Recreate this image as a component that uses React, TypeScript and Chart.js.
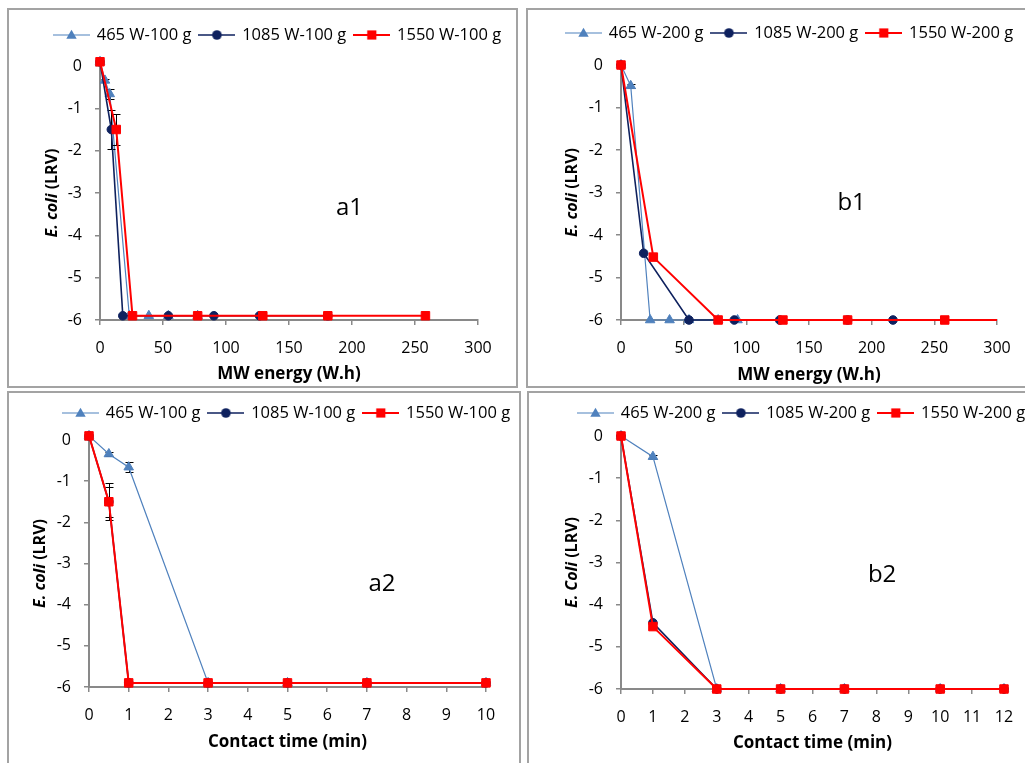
import React, { useEffect, useRef } from 'react';
import { Chart, registerables } from 'chart.js';

Chart.register(...registerables);

const FONT = "'Open Sans', sans-serif";

// ---------- data ----------
const labels100 = ['465 W-100 g', '1085 W-100 g', '1550 W-100 g'];
const labels200 = ['465 W-200 g', '1085 W-200 g', '1550 W-200 g'];

// a1: MW energy (W.h), 100 g
const a1Energy465 = [0, 3.9, 7.75, 23.25, 38.75, 54.25, 77.5];
const a1Energy1085 = [0, 9.0, 18.1, 54.25, 90.4, 126.6, 180.8];
const a1Energy1550 = [0, 12.9, 25.8, 77.5, 129.2, 180.8, 258.3];
// a2: contact time (min), 100 g
const a2Time = [0, 0.5, 1, 3, 5, 7, 10];
// E. coli LRV, 100 g
const lrv100_465 = [0.1, -0.34, -0.66, -5.9, -5.9, -5.9, -5.9];
const lrv100_1085 = [0.1, -1.5, -5.9, -5.9, -5.9, -5.9, -5.9];
const lrv100_1550 = [0.1, -1.5, -5.9, -5.9, -5.9, -5.9, -5.9];
const err100_465 = [0, 0.04, 0.12, 0, 0, 0, 0];
const err100_1085 = [0, 0.45, 0, 0, 0, 0, 0];
const err100_1550 = [0, 0.37, 0, 0, 0, 0, 0];

// b1: MW energy (W.h), 200 g
const b1Energy465 = [0, 7.75, 23.25, 38.75, 54.25, 77.5, 93];
const b1Energy1085 = [0, 18.1, 54.25, 90.4, 126.6, 180.8, 217];
const b1Energy1550 = [0, 25.8, 77.5, 129.2, 180.8, 258.3, 310];
// b2: contact time (min), 200 g
const b2Time = [0, 1, 3, 5, 7, 10, 12];
// E. coli LRV, 200 g
const lrv200_465 = [0, -0.49, -6, -6, -6, -6, -6];
const lrv200_1085 = [0, -4.43, -6, -6, -6, -6, -6];
const lrv200_1550 = [0, -4.52, -6, -6, -6, -6, -6];
const err200_465 = [0, 0.05, 0, 0, 0, 0, 0];

// axes
const energyAxis = { min: 0, max: 300, step: 50 };
const timeAxisA = { min: 0, max: 10, step: 1 };
const timeAxisB = { min: 0, max: 12, step: 1 };
const lrvAxis = { min: -6, max: 0, step: 1 };

// ---------- styles ----------
const COLORS = ['#4f81bd', '#0e215e', '#ff0000'];
const LINE_W = [1.2, 1.6, 2];
const SHAPES = ['triangle', 'circle', 'rect'];
const RADII = [5.5, 4.3, 6];
const AXIS_COLOR = '#898989';
const CW = 600;
const CH = 376;
const LEG_FS = 16.5;
const LEG_PAD = 8.5;
const LEG_BOXW = 34;

type Series = { label: string; x: number[]; y: number[]; err?: number[]; clipRight?: boolean };
type Spec = {
  id: string;
  panel: { x: number; y: number; w: number; h: number };
  plot: { l: number; r: number; t: number; b: number };
  legend: { x: number; cy: number };
  xTitleY: number;
  yTitleX: number;
  xAxis: { min: number; max: number; step: number };
  xTitle: string;
  yTitle: [string, string];
  label: { text: string; x: number; y: number };
  series: Series[];
};

const panels: Spec[] = [
  {
    id: 'a1',
    panel: { x: 7, y: 8, w: 511, h: 380 },
    plot: { l: 100, r: 478, t: 66, b: 320 },
    legend: { x: 53, cy: 35 },
    xTitleY: 374,
    yTitleX: 52,
    xAxis: energyAxis,
    xTitle: 'MW energy (W.h)',
    yTitle: ['E. coli', ' (LRV)'],
    label: { text: 'a1', x: 198, y: -3.35 },
    series: [
      { label: labels100[0], x: a1Energy465, y: lrv100_465, err: err100_465 },
      { label: labels100[1], x: a1Energy1085, y: lrv100_1085, err: err100_1085 },
      { label: labels100[2], x: a1Energy1550, y: lrv100_1550, err: err100_1550 },
    ],
  },
  {
    id: 'b1',
    panel: { x: 526, y: 8, w: 520, h: 380 },
    plot: { l: 621, r: 997, t: 65, b: 320 },
    legend: { x: 565, cy: 33 },
    xTitleY: 375,
    yTitleX: 572,
    xAxis: energyAxis,
    xTitle: 'MW energy (W.h)',
    yTitle: ['E. coli', ' (LRV)'],
    label: { text: 'b1', x: 184, y: -3.25 },
    series: [
      { label: labels200[0], x: b1Energy465, y: lrv200_465, err: err200_465 },
      { label: labels200[1], x: b1Energy1085, y: lrv200_1085 },
      { label: labels200[2], x: b1Energy1550, y: lrv200_1550, clipRight: true },
    ],
  },
  {
    id: 'a2',
    panel: { x: 7, y: 391, w: 514, h: 390 },
    plot: { l: 89, r: 486, t: 440, b: 687 },
    legend: { x: 62, cy: 413 },
    xTitleY: 742,
    yTitleX: 40,
    xAxis: timeAxisA,
    xTitle: 'Contact time (min)',
    yTitle: ['E. coli', ' (LRV)'],
    label: { text: 'a2', x: 7.38, y: -3.5 },
    series: [
      { label: labels100[0], x: a2Time, y: lrv100_465, err: err100_465 },
      { label: labels100[1], x: a2Time, y: lrv100_1085, err: err100_1085 },
      { label: labels100[2], x: a2Time, y: lrv100_1550, err: err100_1550 },
    ],
  },
  {
    id: 'b2',
    panel: { x: 527, y: 391, w: 520, h: 390 },
    plot: { l: 621, r: 1004, t: 436, b: 689 },
    legend: { x: 577, cy: 413 },
    xTitleY: 743,
    yTitleX: 572,
    xAxis: timeAxisB,
    xTitle: 'Contact time (min)',
    yTitle: ['E. Coli', ' (LRV)'],
    label: { text: 'b2', x: 8.18, y: -3.3 },
    series: [
      { label: labels200[0], x: b2Time, y: lrv200_465, err: err200_465 },
      { label: labels200[1], x: b2Time, y: lrv200_1085 },
      { label: labels200[2], x: b2Time, y: lrv200_1550 },
    ],
  },
];

function drawShape(ctx: CanvasRenderingContext2D, shape: string, x: number, y: number, r: number) {
  ctx.beginPath();
  if (shape === 'circle') {
    ctx.arc(x, y, r, 0, Math.PI * 2);
  } else if (shape === 'rect') {
    const s = r / Math.SQRT2;
    ctx.rect(x - s, y - s, 2 * s, 2 * s);
  } else {
    for (let k = 0; k < 3; k++) {
      const a = (k * 2 * Math.PI) / 3;
      const px = x + Math.sin(a) * r;
      const py = y - Math.cos(a) * r;
      if (k === 0) ctx.moveTo(px, py);
      else ctx.lineTo(px, py);
    }
    ctx.closePath();
  }
  ctx.fill();
}

function legendImage(i: number) {
  const c = document.createElement('canvas');
  c.width = 37;
  c.height = 16;
  const ctx = c.getContext('2d')!;
  ctx.strokeStyle = COLORS[i];
  ctx.lineWidth = LINE_W[i];
  ctx.beginPath();
  ctx.moveTo(0, 8);
  ctx.lineTo(37, 8);
  ctx.stroke();
  ctx.fillStyle = COLORS[i];
  drawShape(ctx, SHAPES[i], 18.5, i === 0 ? 8.8 : 8, RADII[i] + 0.5);
  return c;
}

const errorBarPlugin = {
  id: 'errorBars',
  beforeDatasetDraw(chart: any, args: any) {
    const ds = chart.data.datasets[args.index];
    const errs: number[] | undefined = ds.errorBars;
    if (!errs) return;
    const meta = args.meta;
    const ys = chart.scales[meta.yAxisID];
    const ctx: CanvasRenderingContext2D = chart.ctx;
    ctx.save();
    ctx.strokeStyle = '#000';
    ctx.lineWidth = 1;
    meta.data.forEach((pt: any, j: number) => {
      const e = errs[j];
      if (!e) return;
      const v = ds.data[j].y;
      const x = Math.round(pt.x) + 0.5;
      const y1 = Math.round(ys.getPixelForValue(v + e)) + 0.5;
      const y2 = Math.round(ys.getPixelForValue(v - e)) + 0.5;
      ctx.beginPath();
      ctx.moveTo(x, y1);
      ctx.lineTo(x, y2);
      ctx.moveTo(x - 4, y1);
      ctx.lineTo(x + 4, y1);
      ctx.moveTo(x - 4, y2);
      ctx.lineTo(x + 4, y2);
      ctx.stroke();
    });
    ctx.restore();
  },
};

function buildChart(canvas: HTMLCanvasElement, spec: Spec) {
  const ox = spec.panel.x + 2;
  const oy = spec.panel.y + 2;
  const itemX = spec.legend.x + 1.5 - ox;
  const L = itemX - LEG_PAD;
  const T = spec.legend.cy - oy - LEG_PAD - LEG_FS / 2;
  const legendH = LEG_FS + LEG_PAD + 10;
  const cl = spec.plot.l - ox;
  const cr = spec.plot.r - ox;
  const ct = spec.plot.t - oy;
  const cb = spec.plot.b - oy;
  const yW = cl - L;
  const rW = CW - cr;
  const G = ct - T - legendH;
  const xH = CH - cb;
  const titleLH = 17 * 1.2;
  const pb = CH - titleLH / 2 - (spec.xTitleY - oy);
  const imgs = [0, 1, 2].map(legendImage);

  const textPlugin = {
    id: 'panelText',
    afterDraw(chart: any) {
      const ctx: CanvasRenderingContext2D = chart.ctx;
      const ca = chart.chartArea;
      ctx.save();
      ctx.translate(spec.yTitleX - ox, (ca.top + ca.bottom) / 2);
      ctx.rotate(-Math.PI / 2);
      ctx.textBaseline = 'middle';
      ctx.textAlign = 'left';
      ctx.fillStyle = '#000';
      const f1 = `italic bold 16px ${FONT}`;
      const f2 = `bold 16px ${FONT}`;
      ctx.font = f1;
      const w1 = ctx.measureText(spec.yTitle[0]).width;
      ctx.font = f2;
      const w2 = ctx.measureText(spec.yTitle[1]).width;
      const x0 = -(w1 + w2) / 2;
      ctx.font = f1;
      ctx.fillText(spec.yTitle[0], x0, 0);
      ctx.font = f2;
      ctx.fillText(spec.yTitle[1], x0 + w1, 0);
      ctx.restore();

      ctx.save();
      ctx.font = `24px ${FONT}`;
      ctx.fillStyle = '#000';
      ctx.textAlign = 'center';
      ctx.textBaseline = 'middle';
      ctx.fillText(
        spec.label.text,
        chart.scales.x.getPixelForValue(spec.label.x),
        chart.scales.y.getPixelForValue(spec.label.y)
      );
      ctx.restore();
    },
  };

  const datasets = spec.series.map((s, i) => ({
    label: s.label,
    data: s.x.map((x, j) => ({ x, y: s.y[j] })),
    borderColor: COLORS[i],
    backgroundColor: COLORS[i],
    borderWidth: LINE_W[i],
    pointStyle: SHAPES[i],
    pointRadius: RADII[i],
    pointHoverRadius: RADII[i],
    pointBorderWidth: 1,
    pointBorderColor: COLORS[i],
    pointBackgroundColor: COLORS[i],
    tension: 0,
    fill: false,
    order: 3 - i,
    clip: { left: false, top: false, right: s.clipRight ? 0 : false, bottom: false },
    errorBars: s.err,
  }));

  const tickFont = { family: FONT, size: 16 };

  return new Chart(canvas, {
    type: 'line',
    data: { datasets } as any,
    options: {
      responsive: false,
      animation: false,
      events: [],
      layout: { padding: { left: L, top: T, right: 0, bottom: 0 } },
      plugins: {
        tooltip: { enabled: false },
        legend: {
          display: true,
          position: 'top',
          align: 'start',
          labels: {
            usePointStyle: true,
            pointStyleWidth: LEG_BOXW,
            padding: LEG_PAD,
            color: '#000',
            font: { family: FONT, size: LEG_FS },
            generateLabels: (chart: any) =>
              chart.data.datasets.map((ds: any, i: number) => ({
                text: ds.label,
                pointStyle: imgs[i],
                datasetIndex: i,
                hidden: false,
                lineWidth: 0,
                fillStyle: 'rgba(0,0,0,0)',
                strokeStyle: 'rgba(0,0,0,0)',
                fontColor: '#000',
              })),
          },
        },
      },
      scales: {
        x: {
          type: 'linear',
          position: 'bottom',
          min: spec.xAxis.min,
          max: spec.xAxis.max,
          ticks: { stepSize: spec.xAxis.step, color: '#000', font: tickFont, padding: 14, maxRotation: 0, autoSkip: false },
          grid: { drawOnChartArea: false, drawTicks: true, tickLength: 5, color: AXIS_COLOR, lineWidth: 1.5 },
          border: { color: AXIS_COLOR, width: 2 },
          title: {
            display: true,
            text: spec.xTitle,
            color: '#000',
            font: { family: FONT, size: 17, weight: 'bold' },
            padding: { top: 0, bottom: pb },
          },
          afterFit: (s: any) => {
            s.height = xH;
          },
        },
        y: {
          type: 'linear',
          position: 'left',
          min: lrvAxis.min,
          max: lrvAxis.max,
          ticks: { stepSize: lrvAxis.step, color: '#000', font: tickFont, padding: 13 },
          grid: { drawOnChartArea: false, drawTicks: true, tickLength: 5, color: AXIS_COLOR, lineWidth: 1.5 },
          border: { color: AXIS_COLOR, width: 2 },
          title: { display: false },
          afterFit: (s: any) => {
            s.width = yW;
          },
        },
        xTop: {
          type: 'linear',
          axis: 'x',
          position: 'top',
          display: true,
          ticks: { display: false },
          grid: { display: false },
          border: { display: false },
          afterFit: (s: any) => {
            s.height = G;
          },
        },
        yRight: {
          type: 'linear',
          axis: 'y',
          position: 'right',
          display: true,
          ticks: { display: false },
          grid: { display: false },
          border: { display: false },
          afterFit: (s: any) => {
            s.width = rW;
          },
        },
      },
    } as any,
    plugins: [errorBarPlugin as any, textPlugin as any],
  });
}

function Panel({ spec }: { spec: Spec }) {
  const ref = useRef<HTMLCanvasElement>(null);
  useEffect(() => {
    const chart = buildChart(ref.current!, spec);
    return () => chart.destroy();
  }, []);
  return (
    <div
      style={{
        position: 'absolute',
        left: spec.panel.x,
        top: spec.panel.y,
        width: spec.panel.w,
        height: spec.panel.h,
        border: '2px solid #a3a3a3',
        boxSizing: 'border-box',
        overflow: 'hidden',
        background: '#fff',
      }}
    >
      <canvas ref={ref} width={CW} height={CH} style={{ position: 'absolute', left: 0, top: 0, width: CW, height: CH }} />
    </div>
  );
}

export default function App() {
  return (
    <div style={{ position: 'absolute', left: 0, top: 0, width: 1025, height: 763, overflow: 'hidden', background: '#fff' }}>
      {panels.map((p) => (
        <Panel key={p.id} spec={p} />
      ))}
    </div>
  );
}
